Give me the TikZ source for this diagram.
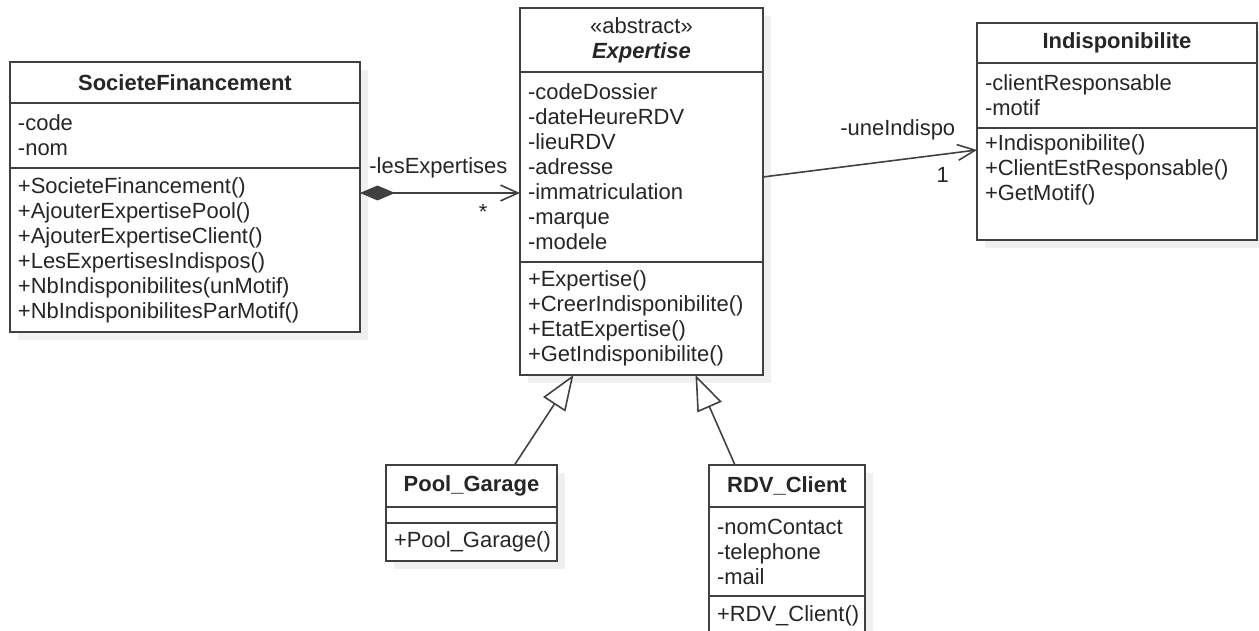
\documentclass[tikz,border=0pt]{standalone}
\usepackage{fontspec}
\setmainfont{Liberation Sans}
\usetikzlibrary{calc,positioning,shadows,arrows.meta}

\newcommand\umlfont{\fontsize{12.5pt}{14.2pt}\selectfont\hyphenpenalty=10000 }

\tikzset{
	umlbox/.style={draw=black!75, line width=0.9pt, fill=white, anchor=north west,
		outer sep=0pt, inner xsep=0.16cm, inner ysep=0pt, text=black!85,
		drop shadow={shadow xshift=0.16cm, shadow yshift=-0.16cm, fill=black!6, opacity=1, draw=none}},
	clshead/.style={umlbox, align=center, font=\umlfont\bfseries},
	clsbody/.style={umlbox, align=left, font=\umlfont},
	assoc/.style={draw=black!75, line width=0.9pt, arrows={-Straight Barb[length=10pt,width=9pt]}},
	comp/.style={assoc, arrows={Diamond[length=20pt,width=8.5pt]-Straight Barb[length=10pt,width=9pt]}},
	inherit/.style={draw=black!75, line width=0.9pt, arrows={-Triangle[open,length=20pt,width=15pt,fill=white]}},
	role/.style={font=\umlfont, text=black!85, inner sep=0pt},
}

\begin{document}
\begin{tikzpicture}[x=0.02cm, y=-0.02cm]
		%%%%% START %%%%%
		\useasboundingbox (0,0) rectangle (1259,630);
		
		% SocieteFinancement
		\node[clshead, text width=6.68cm, minimum height=0.82cm] (sfname) at (10,62) {SocieteFinancement};
		\node[clsbody, text width=6.68cm, minimum height=1.3cm] (sfattr) at (sfname.south west) {-code\\-nom};
		\node[clsbody, text width=6.68cm, minimum height=3.28cm] (sfops) at (sfattr.south west)
			{+SocieteFinancement()\\+AjouterExpertisePool()\\+AjouterExpertiseClient()\\+LesExpertisesIndispos()\\+NbIndisponibilites(unMotif)\\+NbIndisponibilitesParMotif()};
		
		% Expertise
		\node[clshead, text width=4.54cm, minimum height=1.28cm] (expname) at (520,8) {{\mdseries «abstract»}\\\itshape Expertise};
		\node[clsbody, text width=4.54cm, minimum height=3.8cm] (expattr) at (expname.south west)
			{-codeDossier\\-dateHeureRDV\\-lieuRDV\\-adresse\\-immatriculation\\-marque\\-modele};
		\node[clsbody, text width=4.54cm, minimum height=2.26cm] (expops) at (expattr.south west)
			{+Expertise()\\+CreerIndisponibilite()\\+EtatExpertise()\\+GetIndisponibilite()};
		
		% Indisponibilite
		\node[clshead, text width=5.28cm, minimum height=0.8cm] (indname) at (977,23) {Indisponibilite};
		\node[clsbody, text width=5.28cm, minimum height=1.3cm] (indattr) at (indname.south west) {-clientResponsable\\-motif};
		\node[clsbody, text width=5.28cm, minimum height=2.24cm] (indops) at (indattr.south west)
			{+Indisponibilite()\\+ClientEstResponsable()\\+GetMotif()\\\strut};
		
		% Pool_Garage
		\node[clshead, text width=3.1cm, minimum height=0.84cm] (poolname) at (386,465) {Pool\_Garage};
		\node[clsbody, text width=3.1cm, minimum height=0.32cm] (poolattr) at (poolname.south west) {};
		\node[clsbody, text width=3.1cm, minimum height=0.76cm] (poolops) at (poolattr.south west) {+Pool\_Garage()};
		
		% RDV_Client
		\node[clshead, text width=2.8cm, minimum height=0.84cm] (rdvname) at (709,465) {RDV\_Client};
		\node[clsbody, text width=2.8cm, minimum height=1.78cm] (rdvattr) at (rdvname.south west) {-nomContact\\-telephone\\-mail};
		\node[clsbody, text width=2.8cm, minimum height=0.8cm] (rdvops) at (rdvattr.south west) {+RDV\_Client()};
		
		% associations
		\draw[comp] ($(sfops.north east)+(0,25)$) --
			node[role, pos=0.49, yshift=0.5cm] (lesexp) {-lesExpertises}
			node[role, pos=0.77, yshift=-0.38cm] (lesexpmult) {*}
			($(expattr.north west)+(0,121)$);
		\draw[assoc] ($(expattr.north east)+(0,105)$) --
			node[role, pos=0.63, yshift=0.6cm] (uneind) {-uneIndispo}
			node[role, pos=0.84, yshift=-0.42cm] (uneindmult) {1}
			($(indops.north west)+(0,22)$);
		
		% heritage
		\draw[inherit] ($(poolname.north)+(43,0)$) -- ($(expops.south)+(-68,0)$);
		\draw[inherit] ($(rdvname.north)+(-52,0)$) -- ($(expops.south)+(54,0)$);
		
		%%%%% END %%%%%
\end{tikzpicture}
\end{document}
